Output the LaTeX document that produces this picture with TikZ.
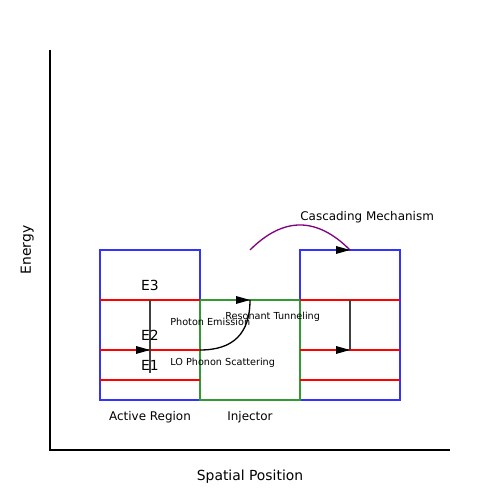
\documentclass[tikz,border=0pt]{standalone}
\usepackage{fontspec}
\setmainfont{DejaVu Sans}
\usetikzlibrary{positioning}
\definecolor{wellblue}{RGB}{51,51,255}
\definecolor{injgreen}{RGB}{51,153,51}
\definecolor{cascpurple}{RGB}{128,0,128}

\begin{document}
\begin{tikzpicture}[
    wall/.style={line width=1.1pt},
    level/.style={red, line width=1.1pt},
    drop/.style={black!75, line width=1pt},
    flow/.style={line width=0.75pt},
    lbl/.style={font=\fontsize{7.9}{9}\selectfont, anchor=base, inner sep=0pt},
    tag/.style={font=\fontsize{6.8}{8}\selectfont, anchor=base, inner sep=0pt},
    note/.style={font=\fontsize{5.5}{7}\selectfont, anchor=base west, inner sep=0pt},
  ]
    \useasboundingbox (0,0) rectangle (10,10);

    % axes
    \coordinate (o) at (1,1);
    \coordinate [above=8cm of o] (ytop);
    \coordinate [right=8cm of o] (xend);
    \draw [line width=0.8pt] (ytop) -- (o) -- (xend);

    % active region, injector, next stage
    \draw [wall, wellblue] (2,2) rectangle (4,5);
    \draw [wall, wellblue] (6,2) rectangle (8,5);
    \draw [wall, injgreen] (4,2) rectangle (6,4);

    \foreach \y/\n in {4/3, 3/2, 2.4/1} {
      \coordinate (al\n) at (2,\y);
      \coordinate (ar\n) at (4,\y);
      \coordinate (nl\n) at (6,\y);
      \coordinate (nr\n) at (8,\y);
      \draw [level] (al\n) -- (ar\n);
      \draw [level] (nl\n) -- (nr\n);
    }

    % transitions
    \coordinate (pe3) at (3,4);
    \coordinate (pe2) at (3,3);
    \coordinate (pe1) at (3,2.54);
    \draw [drop] (pe3) -- (pe1);
    \fill (pe2) -- ++(-0.28,0.08) -- ++(0,-0.16) -- cycle;

    \coordinate (rt) at (5,4);
    \draw [flow] (ar2) .. controls (4.667,3) and (5,3.333) .. (rt);
    \fill (rt) -- ++(-0.28,0.08) -- ++(0,-0.16) -- cycle;

    \coordinate (n3) at (7,4);
    \coordinate (n2) at (7,3);
    \draw [drop] (n3) -- (n2);
    \fill (n2) -- ++(-0.28,0.08) -- ++(0,-0.16) -- cycle;

    \coordinate (cs) at (5,5);
    \coordinate (ce) at (7,5);
    \draw [flow, cascpurple] (cs) .. controls (5.667,5.667) and (6.333,5.667) .. (ce);
    \fill (ce) -- ++(-0.28,0.08) -- ++(0,-0.16) -- cycle;

    % labels
    \node [lbl] (e3) at (3,4.186) {E3};
    \node [lbl] (e2) at (3,3.186) {E2};
    \node [lbl] (e1) at (3,2.586) {E1};
    \node [note] (photon) at (3.4,3.493) {Photon Emission};
    \node [note] (phonon) at (3.4,2.693) {LO Phonon Scattering};
    \node [note] (tunnel) at (4.5,3.6) {Resonant Tunneling};
    \node [tag, anchor=base west] (cascade) at (6,5.586) {Cascading Mechanism};
    \node [tag] (active) at (3,1.586) {Active Region};
    \node [tag] (injector) at (5,1.586) {Injector};
    \node [lbl] (xlabel) at (5,0.386) {Spatial Position};
    \node [lbl, rotate=90] (ylabel) at (0.62,5) {Energy};
\end{tikzpicture}
\end{document}
